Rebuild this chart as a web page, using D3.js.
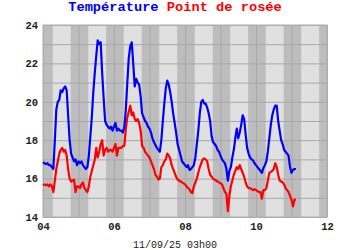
<!DOCTYPE html>
<html>
<head>
<meta charset="utf-8">
<script src="https://cdn.jsdelivr.net/npm/d3@7"></script>
<style>
  body { margin: 0; background: #fff; }
  text { font-family: "Liberation Mono", "DejaVu Sans Mono", monospace; }
</style>
</head>
<body>
<div id="chart"></div>
<script>
const width = 350;
const height = 250;
const margin = {top: 25, right: 23, bottom: 33, left: 43};

// hourly readings starting 04/09 00h00
const startDay = 4;
const temperature = [
  16.85, 16.8, 16.75, 16.8, 16.7, 16.7, 16.6, 16.5, 18.0, 19.6, 20.0, 20.1,
  20.6, 20.5, 20.7, 20.8, 20.6, 19.3, 18.0, 17.3, 17.1, 16.9, 17.0, 16.7,
  16.9, 16.8, 16.9, 16.7, 16.6, 16.5, 16.6, 17.2, 18.2, 19.2, 20.5, 21.5,
  22.4, 23.2, 23.0, 23.1, 21.5, 20.2, 19.0, 18.8, 18.7, 18.6, 18.7, 18.5,
  18.7, 18.9, 18.5, 18.6, 18.5, 18.5, 18.4, 18.7, 19.6, 21.0, 22.3, 22.9,
  23.1, 22.0, 20.8, 21.2, 21.0, 20.9, 20.3, 19.4, 19.2, 19.0, 18.9, 18.7,
  18.6, 18.4, 18.1, 17.9, 17.75, 17.6, 17.5, 17.4, 18.0, 19.0, 19.9, 20.7,
  21.1, 20.9, 20.5, 20.0, 19.4, 18.9, 18.4, 17.8, 17.5, 17.2, 16.9, 16.8,
  16.7, 16.6, 16.7, 16.45, 16.5, 16.6, 16.7, 17.1, 17.8, 18.5, 19.4, 20.0,
  20.1, 19.9, 19.9, 19.7, 19.4, 19.0, 18.2, 17.9, 17.8, 17.7, 17.5, 17.4,
  17.2, 17.0, 16.9, 16.8, 16.5, 15.9, 16.4, 16.6, 17.1, 17.5, 18.1, 18.6,
  18.1, 18.4, 18.8, 19.3, 19.1, 18.3, 17.6, 17.3, 17.1, 17.0, 16.95, 16.8,
  16.7, 16.6, 16.5, 16.4, 16.3, 16.55, 16.7, 16.9, 17.4, 18.1, 18.8, 19.3,
  19.6, 19.8, 19.8, 19.0, 18.5, 18.0, 17.8, 17.5, 17.4, 17.3, 17.2, 16.6,
  16.3, 16.45, 16.5, 16.5
];
const dewPoint = [
  15.65, 15.7, 15.65, 15.7, 15.6, 15.7, 15.6, 15.3, 15.9, 16.5, 16.9, 17.3,
  17.5, 17.6, 17.4, 17.5, 17.2, 16.5, 16.0, 15.85, 15.9, 15.95, 15.3, 15.6,
  15.6, 15.5, 15.7, 15.8, 15.5, 15.4, 15.3, 15.6, 16.1, 16.4, 16.7, 17.0,
  17.6, 17.1, 17.4, 17.8, 18.0, 17.2, 17.5, 17.6, 17.4, 17.5, 17.5, 17.4,
  17.6, 17.8, 17.2, 17.6, 17.6, 17.6, 17.7, 17.7, 18.6, 19.2, 19.5, 19.8,
  19.3, 19.45, 19.1, 19.0, 19.1, 18.9, 18.5, 17.7, 17.6, 17.4, 17.3, 17.2,
  17.1, 16.9, 16.7, 16.5, 16.2, 16.1, 15.95, 16.0, 16.6, 16.7, 16.9, 17.0,
  17.3, 17.2, 17.05, 16.7, 16.5, 16.3, 16.1, 15.95, 15.9, 15.85, 15.8, 15.75,
  15.7, 15.6, 15.5, 15.45, 15.3, 15.25, 15.6, 15.8, 16.0, 16.3, 16.6, 16.8,
  17.0, 17.05, 17.0, 16.9, 16.5, 16.2, 16.1, 16.0, 15.95, 15.9, 15.85, 15.8,
  15.75, 15.7, 15.5, 15.3, 15.2, 14.3, 15.1, 15.6, 15.9, 16.2, 16.4, 16.6,
  16.5, 16.7, 16.5, 16.3, 16.1, 15.8, 15.6, 15.5, 15.5, 15.45, 15.4, 15.45,
  15.4, 15.35, 15.3, 15.3, 14.95, 15.4, 15.4, 15.5, 15.9, 16.3, 16.35, 16.4,
  16.5, 16.8, 16.6, 16.2, 15.9, 15.85, 15.8, 15.7, 15.5, 15.4, 15.3, 15.1,
  14.9, 14.55, 14.9, 14.9
];

const xTickLabels = ["04", "06", "08", "10", "12"];
const yTickLabels = [14, 16, 18, 20, 22, 24];
const sunrise = 6.6;   // hours
const sunset = 18.7;
const stamp = "11/09/25 03h00";

const plotW = width - margin.left - margin.right;
const plotH = height - margin.top - margin.bottom;

const svg = d3.select("#chart")
  .append("svg")
  .attr("width", width)
  .attr("height", height)
  .append("g")
  .attr("transform", `translate(${margin.left},${margin.top})`);

const x = d3.scaleLinear().domain([4, 12]).range([0, plotW]);
const y = d3.scaleLinear().domain([14, 24]).range([plotH, 0]);

// background, light = day, dark = night
svg.append("rect")
  .attr("width", plotW).attr("height", plotH)
  .style("fill", "#bdbdbd");

const days = d3.range(4, 12);
svg.selectAll(".dayBand")
  .data(days)
  .join("rect")
  .attr("class", "dayBand")
  .attr("x", d => x(d + sunrise / 24))
  .attr("y", 0)
  .attr("width", d => x(d + sunset / 24) - x(d + sunrise / 24))
  .attr("height", plotH)
  .style("fill", "#e0e0e0");

// grid
svg.append("g")
  .call(d3.axisBottom(x).ticks(8).tickSize(plotH).tickFormat(""))
  .call(g => g.select(".domain").remove())
  .selectAll("line").style("stroke", "#a8a8a8");

svg.append("g")
  .call(d3.axisLeft(y).ticks(10).tickSize(-plotW).tickFormat(""))
  .call(g => g.select(".domain").remove())
  .selectAll("line").style("stroke", "#a8a8a8");

svg.append("rect")
  .attr("width", plotW).attr("height", plotH)
  .style("fill", "none").style("stroke", "#b0b0b0");

// lines
const line = d3.line()
  .x((d, i) => x(startDay + i / 24))
  .y(d => y(d));

svg.append("path")
  .datum(dewPoint)
  .attr("d", line)
  .style("fill", "none")
  .style("stroke", "#ff0000")
  .style("stroke-width", 2.2)
  .style("stroke-linejoin", "round");

svg.append("path")
  .datum(temperature)
  .attr("d", line)
  .style("fill", "none")
  .style("stroke", "#0000ff")
  .style("stroke-width", 2.2)
  .style("stroke-linejoin", "round");

// axes labels
svg.append("g")
  .attr("transform", `translate(0,${plotH})`)
  .call(d3.axisBottom(x).tickValues(xTickLabels.map(Number)).tickSize(0).tickPadding(6)
    .tickFormat((d, i) => xTickLabels[i]))
  .call(g => g.select(".domain").remove())
  .selectAll("text")
  .style("font-family", "'Liberation Mono', monospace")
  .style("font-size", "10.5px")
  .style("font-weight", "bold")
  .style("fill", "#222");

svg.append("g")
  .call(d3.axisLeft(y).tickValues(yTickLabels).tickSize(0).tickPadding(5))
  .call(g => g.select(".domain").remove())
  .selectAll("text")
  .style("font-family", "'Liberation Mono', monospace")
  .style("font-size", "10.5px")
  .style("font-weight", "bold")
  .style("fill", "#222");

// title
const title = d3.select("svg").append("text")
  .attr("x", width / 2)
  .attr("y", 11)
  .attr("text-anchor", "middle")
  .style("font-size", "13.7px")
  .style("font-weight", "bold");
title.append("tspan").style("fill", "#0000ff").text("Température");
title.append("tspan").style("fill", "#ff0000").text(" Point de rosée");

d3.select("svg").append("text")
  .attr("x", width / 2)
  .attr("y", 248)
  .attr("text-anchor", "middle")
  .style("font-size", "10px")
  .style("fill", "#222")
  .text(stamp);
</script>
</body>
</html>
